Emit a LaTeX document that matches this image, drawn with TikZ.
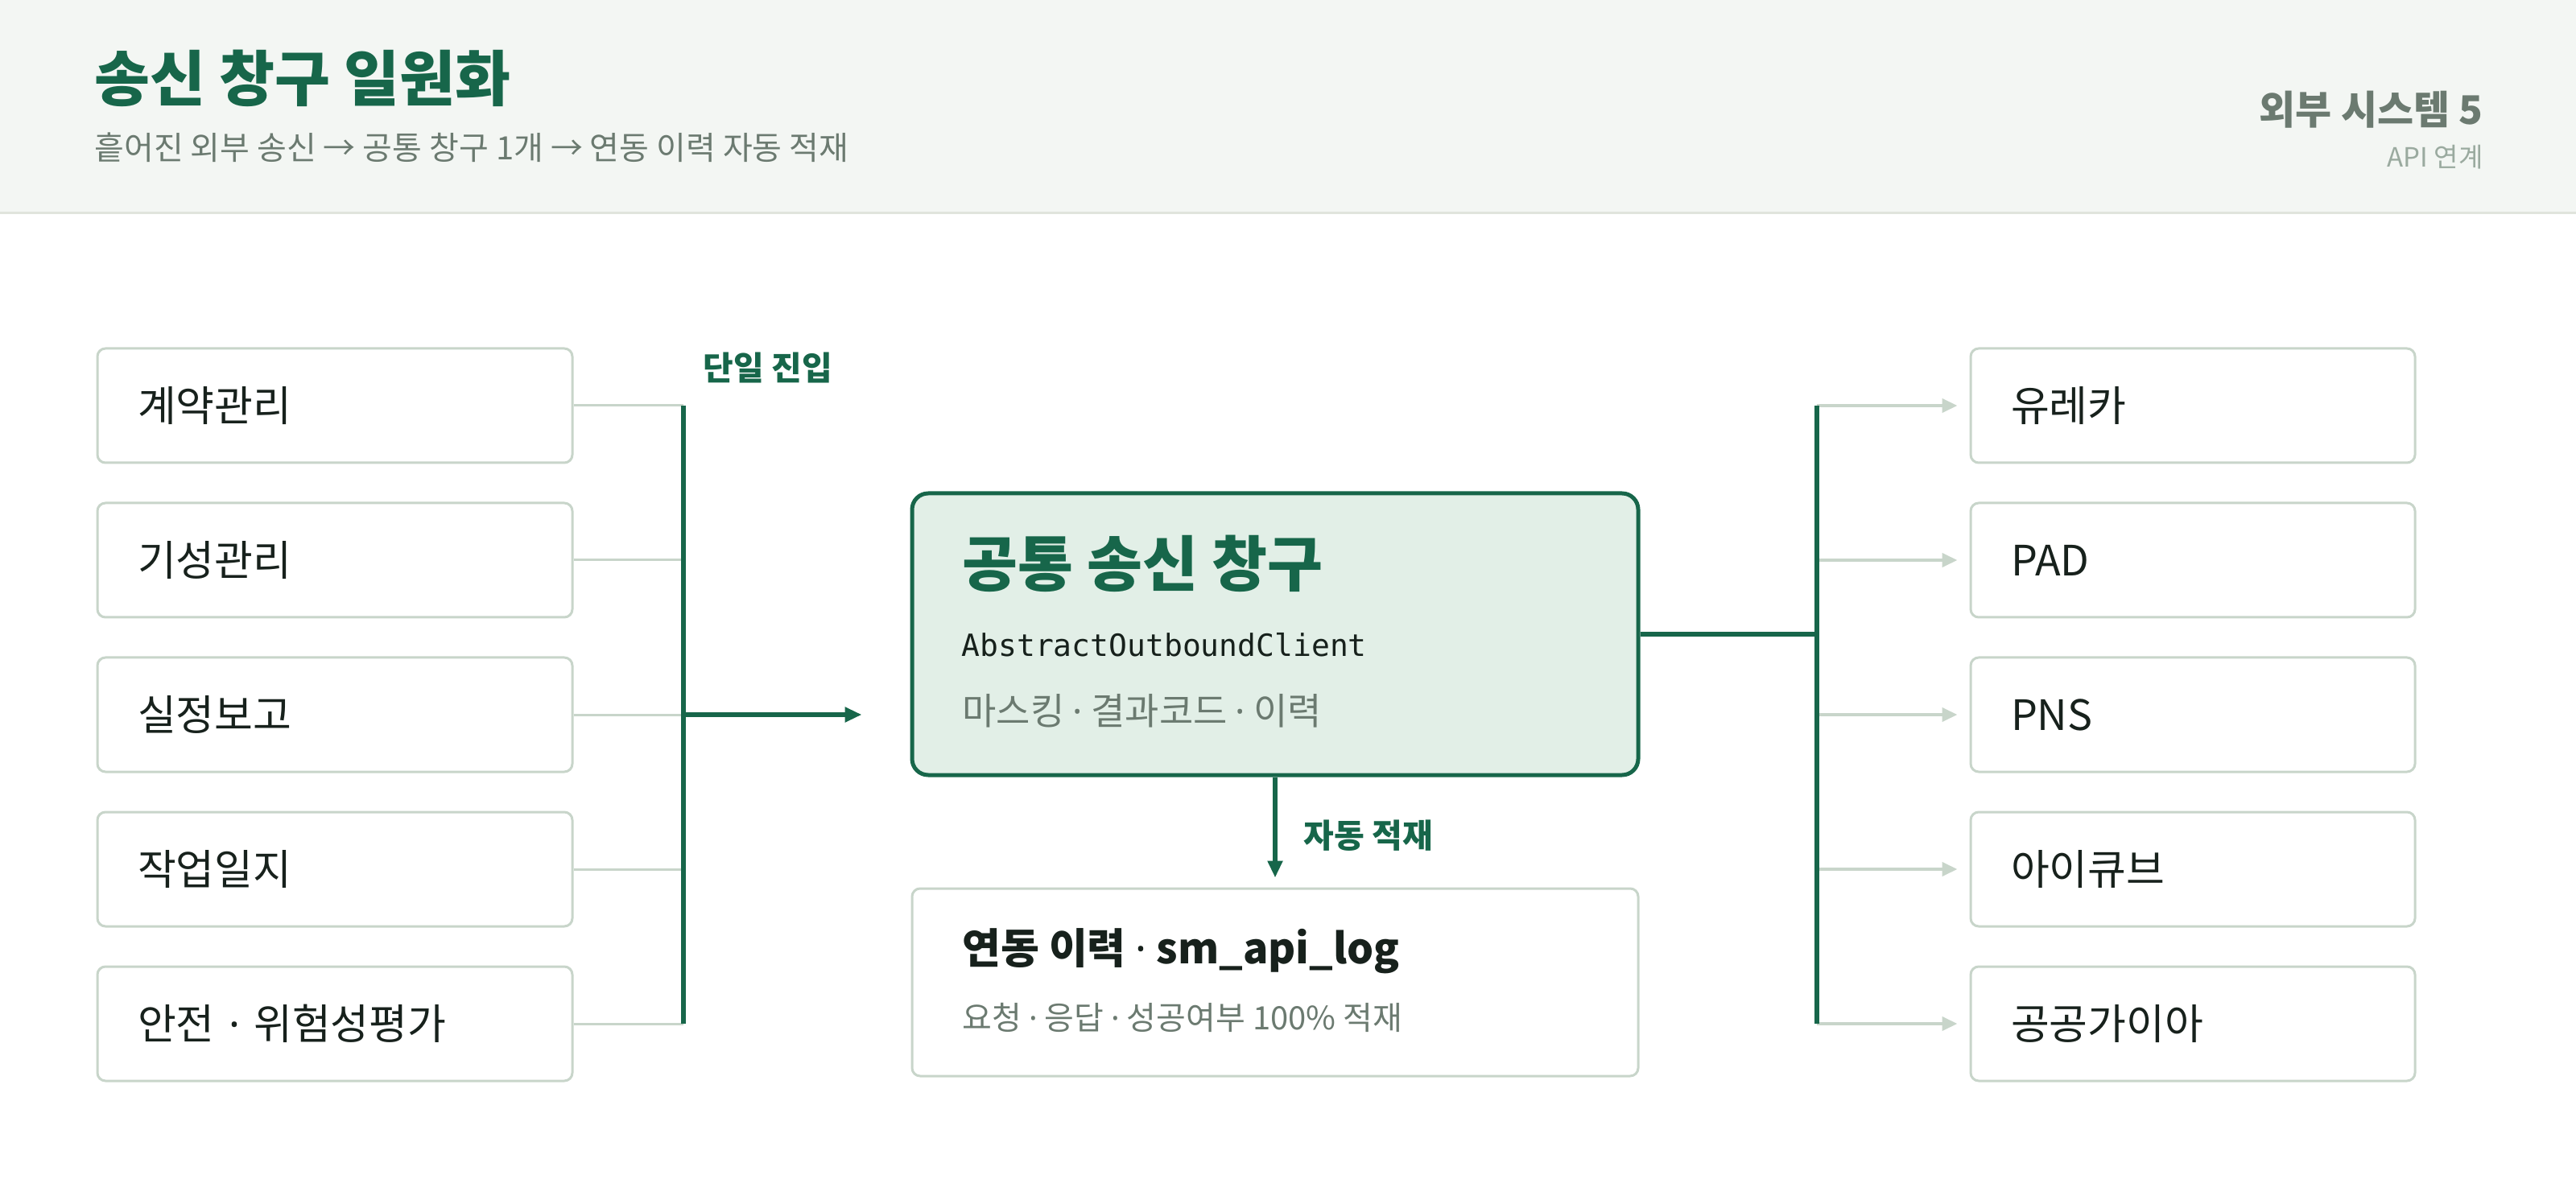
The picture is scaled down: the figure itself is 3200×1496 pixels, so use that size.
\documentclass[tikz,border=0pt]{standalone}
\usepackage{fontspec}
\setmainfont{Noto Sans CJK KR}
\setmonofont{DejaVu Sans Mono}
\newfontfamily\dotfont{Noto Sans}
\usetikzlibrary{arrows.meta}

\definecolor{hubgreen}{RGB}{23,102,74}
\definecolor{hubfill}{RGB}{226,239,231}
\definecolor{headbg}{RGB}{243,246,243}
\definecolor{headrule}{RGB}{224,228,220}
\definecolor{softline}{RGB}{200,213,202}
\definecolor{inkdark}{RGB}{23,33,28}
\definecolor{inkgray}{RGB}{107,122,112}
\definecolor{inklight}{RGB}{154,170,159}

\newcommand{\sepdot}{{\dotfont ·}}

\tikzset{every picture/.style={line width=0.75pt}}
\tikzset{
  srcbox/.style={draw=softline, line width=0.75pt, rounded corners=2.5pt, fill=white,
    minimum width=147.5pt, minimum height=35.5pt, inner xsep=12.5pt, inner ysep=0pt,
    text width=122.5pt, align=left, text=inkdark, font=\fontsize{13pt}{15pt}\selectfont},
  dstbox/.style={srcbox, minimum width=138pt, text width=113pt},
  hubbox/.style={draw=hubgreen, line width=1.25pt, rounded corners=5pt, fill=hubfill,
    minimum width=225.5pt, minimum height=87.5pt, inner sep=0pt},
  logbox/.style={draw=softline, line width=0.75pt, rounded corners=2.5pt, fill=white,
    minimum width=225.5pt, minimum height=58.25pt, inner sep=0pt},
  feedline/.style={draw=softline, line width=0.75pt},
  fanline/.style={draw=softline, line width=1pt, shorten >=3.75pt,
    -{Triangle[length=4.75pt,width=4.25pt]}},
  busline/.style={draw=hubgreen, line width=1.4pt},
  busarrow/.style={busline, -{Triangle[length=5.25pt,width=4.5pt]}},
  tag/.style={inner sep=0pt, text=hubgreen, font=\bfseries\fontsize{10.25pt}{12pt}\selectfont},
}

\begin{document}
\begin{tikzpicture}[x=0.25pt,y=0.25pt,yscale=-1,xscale=1]
\useasboundingbox (0,0) rectangle (3200,1496);

%Header band
\fill [headbg] (0,0) rectangle (3200,265);
\draw [headrule, line width=0.75pt] (0,265) -- (3200,265);

% Text Node
\draw (116,126) node [anchor=base west][inner sep=0pt][font=\bfseries\fontsize{18.75pt}{21pt}\selectfont, text=hubgreen] (ttl) {송신 창구 일원화};
% Text Node
\draw (116,199) node [anchor=base west][inner sep=0pt][font=\fontsize{10pt}{12pt}\selectfont, text=inkgray] (subttl) {흩어진 외부 송신 → 공통 창구 1개 → 연동 이력 자동 적재};
% Text Node
\draw (3086,155) node [anchor=base east][inner sep=0pt][font=\bfseries\fontsize{12.25pt}{14pt}\selectfont, text=inkgray] (cnt) {외부 시스템 5};
% Text Node
\draw (3086,208) node [anchor=base east][inner sep=0pt][font=\fontsize{8.25pt}{10pt}\selectfont, text=inklight] (cntsub) {API 연계};

%Source boxes
\node [srcbox] (src1) at (416,504) {계약관리};
\node [srcbox] (src2) at (416,696) {기성관리};
\node [srcbox] (src3) at (416,888) {실정보고};
\node [srcbox] (src4) at (416,1080) {작업일지};
\node [srcbox] (src5) at (416,1272) {안전 \sepdot{} 위험성평가};

%Target boxes
\node [dstbox] (dst1) at (2724,504) {유레카};
\node [dstbox] (dst2) at (2724,696) {PAD};
\node [dstbox] (dst3) at (2724,888) {PNS};
\node [dstbox] (dst4) at (2724,1080) {아이큐브};
\node [dstbox] (dst5) at (2724,1272) {공공가이아};

%Hub box
\node [hubbox] (hub) at (1584,788) {};
% Text Node
\draw (1194,729) node [anchor=base west][inner sep=0pt][font=\bfseries\fontsize{18.75pt}{21pt}\selectfont, text=hubgreen] (hubttl) {공통 송신 창구};
% Text Node
\draw (1193,816) node [anchor=base west][inner sep=0pt][font=\ttfamily\fontsize{9.5pt}{11pt}\selectfont, text=inkdark] (hubcls) {AbstractOutboundClient};
% Text Node
\draw (1194,901) node [anchor=base west][inner sep=0pt][font=\fontsize{11.5pt}{13pt}\selectfont, text=inkgray] (hubsub) {마스킹 \sepdot{} 결과코드 \sepdot{} 이력};

%Log box
\node [logbox] (log) at (1584,1220.5) {};
% Text Node
\draw (1194,1197) node [anchor=base west][inner sep=0pt][font=\bfseries\fontsize{13pt}{15pt}\selectfont, text=inkdark] (logttl) {연동 이력 \sepdot{} sm\_api\_log};
% Text Node
\draw (1194,1279) node [anchor=base west][inner sep=0pt][font=\fontsize{10pt}{12pt}\selectfont, text=inkgray] (logsub) {요청 \sepdot{} 응답 \sepdot{} 성공여부 100\% 적재};

%Left bus
\coordinate (busLtop) at (849,504);
\coordinate (busLbot) at (849,1272);
%Straight Lines
\draw [feedline] (src1.east) -- (src1.east -| busLtop);
\draw [feedline] (src2.east) -- (src2.east -| busLtop);
\draw [feedline] (src3.east) -- (src3.east -| busLtop);
\draw [feedline] (src4.east) -- (src4.east -| busLtop);
\draw [feedline] (src5.east) -- (src5.east -| busLtop);
\draw [busline] (busLtop) -- (busLbot);
\draw [busarrow, shorten >=15pt] (src3.east -| busLtop) -- (hub.west |- src3.east);
% Text Node
\draw (872,473) node [anchor=base west][tag] (entrytag) {단일 진입};

%Right bus
\coordinate (busRtop) at (2257,504);
\coordinate (busRbot) at (2257,1272);
%Straight Lines
\draw [fanline] (dst1.west -| busRtop) -- (dst1.west);
\draw [fanline] (dst2.west -| busRtop) -- (dst2.west);
\draw [fanline] (dst3.west -| busRtop) -- (dst3.west);
\draw [fanline] (dst4.west -| busRtop) -- (dst4.west);
\draw [fanline] (dst5.west -| busRtop) -- (dst5.west);
\draw [busline] (busRtop) -- (busRbot);
\draw [busline] (hub.east) -- (hub.east -| busRtop);

%Down arrow
\draw [busarrow, shorten >=3pt] (hub.south) -- (log.north);
% Text Node
\draw (1618,1053) node [anchor=base west][tag] (logtag) {자동 적재};

\end{tikzpicture}
\end{document}
